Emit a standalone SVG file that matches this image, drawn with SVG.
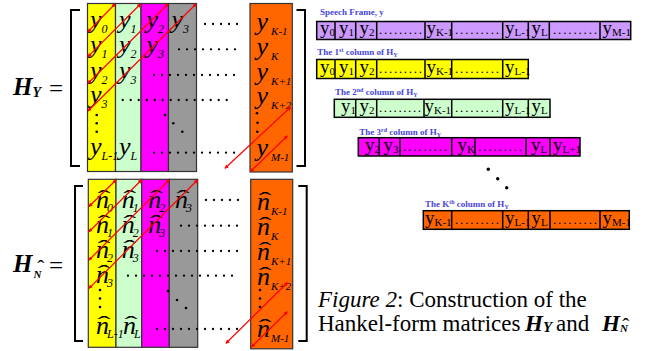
<svg xmlns="http://www.w3.org/2000/svg" width="660" height="351" viewBox="0 0 660 351">
<defs>
<marker id="ah" viewBox="0 0 6 6" refX="5" refY="3" markerWidth="4" markerHeight="4" orient="auto-start-reverse" markerUnits="userSpaceOnUse">
<path d="M0,0 L6,3 L0,6 z" fill="#ff0000"/>
</marker>
<style>
.m{font-family:"Liberation Serif","Times New Roman",serif;font-style:italic;font-size:26px;fill:#000}
.s{font-size:12px}
.so{font-size:11px}
.hat{font-family:"Liberation Serif","Times New Roman",serif;font-size:22px;fill:#000}
.col{stroke:#333;stroke-width:1.2}
.br{fill:none;stroke:#000;stroke-width:2}
.dots{stroke:#000;stroke-width:2.3;stroke-linecap:round;stroke-dasharray:0 8;fill:none}
.dot{fill:#000}
.red{stroke:#ff0000;stroke-width:1.2;fill:none;marker-start:url(#ah);marker-end:url(#ah)}
.cell{stroke:#000;stroke-width:1.5}
.b{font-family:"Liberation Serif","Times New Roman",serif;font-size:19px;fill:#000}
.bs{font-size:11px}
.ld{font-family:"Liberation Serif","Times New Roman",serif;font-size:13px;fill:#000}
.lbl{font-family:"Liberation Serif","Times New Roman",serif;font-weight:bold;font-size:9px;fill:#4646d8}
.sup{font-size:6px}
.eq{font-family:"Liberation Serif","Times New Roman",serif;font-weight:bold;font-style:italic;font-size:25px;fill:#000}
.eqn{font-family:"Liberation Serif","Times New Roman",serif;font-size:25px;fill:#000}
.cap{font-family:"Liberation Serif","Times New Roman",serif;font-size:23px;fill:#000}
</style>
</defs>

<!-- Top matrix H_Y -->
<g id="label-HY">
<text class="eq" x="13" y="95">H<tspan font-size="14" dy="2">Y</tspan></text>
<text class="eqn" x="49" y="97">=</text>
</g>
<g id="matrix-HY">
<rect class="col" x="87.5" y="3.5" width="28" height="168" fill="#ffff00"/>
<rect class="col" x="115.5" y="3.5" width="25.5" height="168" fill="#ccffcc"/>
<rect class="col" x="141" y="3.5" width="27.5" height="168" fill="#ff00ff"/>
<rect class="col" x="168.5" y="3.5" width="28" height="168" fill="#999999"/>
<rect class="col" x="250" y="3.5" width="42.3" height="168.5" fill="#ff6600"/>
<path class="br" d="M80,10 H71 V166 H80"/>
<path class="br" d="M296.5,10 H305 V166 H296.5"/>
<text class="m" x="90" y="28">y<tspan class="s" dy="5">0</tspan></text>
<text class="m" x="119" y="28">y<tspan class="s" dy="5">1</tspan></text>
<text class="m" x="146.5" y="28">y<tspan class="s" dy="5">2</tspan></text>
<text class="m" x="171.5" y="28">y<tspan class="s" dy="5">3</tspan></text>
<text class="m" x="90" y="53">y<tspan class="s" dy="5">1</tspan></text>
<text class="m" x="119" y="53">y<tspan class="s" dy="5">2</tspan></text>
<text class="m" x="146.5" y="53">y<tspan class="s" dy="5">3</tspan></text>
<text class="m" x="90" y="79">y<tspan class="s" dy="5">2</tspan></text>
<text class="m" x="119" y="79">y<tspan class="s" dy="5">3</tspan></text>
<text class="m" x="90" y="103">y<tspan class="s" dy="5">3</tspan></text>
<text class="m" x="90" y="155">y<tspan class="s" dy="5">L-1</tspan></text>
<text class="m" x="119" y="155">y<tspan class="s" dy="5">L</tspan></text>
<text class="m" x="256.5" y="30">y<tspan class="so" dx="3" dy="5">K-1</tspan></text>
<text class="m" x="256.5" y="55">y<tspan class="so" dx="3" dy="5">K</tspan></text>
<text class="m" x="256.5" y="80">y<tspan class="so" dx="3" dy="5">K+1</tspan></text>
<text class="m" x="256.5" y="104">y<tspan class="so" dx="3" dy="5">K+2</tspan></text>
<text class="m" x="256.5" y="156">y<tspan class="so" dx="3" dy="5">M-1</tspan></text>
<line class="dots" x1="205" y1="24" x2="245" y2="24"/>
<line class="dots" x1="179" y1="49.3" x2="243" y2="49.3"/>
<line class="dots" x1="154" y1="75" x2="242" y2="75"/>
<line class="dots" x1="122.7" y1="100" x2="234.7" y2="100"/>
<line class="dots" x1="154" y1="152.7" x2="242" y2="152.7"/>
<circle class="dot" cx="96.7" cy="115" r="1.3"/>
<circle class="dot" cx="96.7" cy="123.3" r="1.3"/>
<circle class="dot" cx="96.7" cy="131.7" r="1.3"/>
<circle class="dot" cx="165" cy="115" r="1.3"/>
<circle class="dot" cx="173.3" cy="123.3" r="1.3"/>
<circle class="dot" cx="182.3" cy="131.7" r="1.3"/>
<circle class="dot" cx="257" cy="113.3" r="1.3"/>
<circle class="dot" cx="257.5" cy="122.7" r="1.3"/>
<circle class="dot" cx="257.3" cy="131.7" r="1.3"/>
</g>

<!-- Bottom matrix H_N -->
<g id="label-HN">
<text class="eq" x="13" y="272">H<tspan font-size="11" dx="1" dy="6">N</tspan></text>
<text class="hat" x="37.3" y="275" font-size="14" textLength="7" lengthAdjust="spacingAndGlyphs">ˆ</text>
<text class="eqn" x="49" y="274">=</text>
</g>
<g id="matrix-HN">
<rect class="col" x="88.3" y="179.3" width="27.7" height="168" fill="#ffff00"/>
<rect class="col" x="116" y="179.3" width="25.7" height="168" fill="#ccffcc"/>
<rect class="col" x="141.7" y="179.3" width="27.6" height="168" fill="#ff00ff"/>
<rect class="col" x="169.3" y="179.3" width="28.4" height="168" fill="#999999"/>
<rect class="col" x="250.7" y="179.3" width="42" height="169.5" fill="#ff6600"/>
<path class="br" d="M83,186 H75 V341 H83"/>
<path class="br" d="M298.3,186 H306.7 V341 H298.3"/>
<g id="n-row1">
<text class="m" x="96" y="208">n<tspan class="s" dx="-2" dy="4">0</tspan></text>
<text class="hat" x="97.5" y="205" textLength="13" lengthAdjust="spacingAndGlyphs">ˆ</text>
<text class="m" x="121.7" y="208">n<tspan class="s" dx="-2" dy="4">1</tspan></text>
<text class="hat" x="123.2" y="205" textLength="13" lengthAdjust="spacingAndGlyphs">ˆ</text>
<text class="m" x="148.3" y="208">n<tspan class="s" dx="-2" dy="4">2</tspan></text>
<text class="hat" x="149.8" y="205" textLength="13" lengthAdjust="spacingAndGlyphs">ˆ</text>
<text class="m" x="175" y="208">n<tspan class="s" dx="-2" dy="4">3</tspan></text>
<text class="hat" x="176.5" y="205" textLength="13" lengthAdjust="spacingAndGlyphs">ˆ</text>
</g>
<g id="n-row2">
<text class="m" x="96" y="233">n<tspan class="s" dx="-2" dy="4">1</tspan></text>
<text class="hat" x="97.5" y="230" textLength="13" lengthAdjust="spacingAndGlyphs">ˆ</text>
<text class="m" x="121.7" y="233">n<tspan class="s" dx="-2" dy="4">2</tspan></text>
<text class="hat" x="123.2" y="230" textLength="13" lengthAdjust="spacingAndGlyphs">ˆ</text>
<text class="m" x="148.3" y="233">n<tspan class="s" dx="-2" dy="4">3</tspan></text>
<text class="hat" x="149.8" y="230" textLength="13" lengthAdjust="spacingAndGlyphs">ˆ</text>
</g>
<g id="n-row3">
<text class="m" x="96" y="258">n<tspan class="s" dx="-2" dy="4">2</tspan></text>
<text class="hat" x="97.5" y="255" textLength="13" lengthAdjust="spacingAndGlyphs">ˆ</text>
<text class="m" x="121.7" y="258">n<tspan class="s" dx="-2" dy="4">3</tspan></text>
<text class="hat" x="123.2" y="255" textLength="13" lengthAdjust="spacingAndGlyphs">ˆ</text>
</g>
<g id="n-row4">
<text class="m" x="96" y="283">n<tspan class="s" dx="-2" dy="4">3</tspan></text>
<text class="hat" x="97.5" y="280" textLength="13" lengthAdjust="spacingAndGlyphs">ˆ</text>
</g>
<g id="n-rowL">
<text class="m" x="96" y="334">n<tspan class="s" dx="-2" dy="4">L-1</tspan></text>
<text class="hat" x="97.5" y="331" textLength="13" lengthAdjust="spacingAndGlyphs">ˆ</text>
<text class="m" x="123" y="334">n<tspan class="s" dx="-2" dy="4">L</tspan></text>
<text class="hat" x="124.5" y="331" textLength="13" lengthAdjust="spacingAndGlyphs">ˆ</text>
</g>
<g id="n-orange">
<text class="m" x="257" y="210">n<tspan class="so" dx="1" dy="5">K-1</tspan></text>
<text class="hat" x="258.5" y="207" textLength="13" lengthAdjust="spacingAndGlyphs">ˆ</text>
<text class="m" x="257" y="235">n<tspan class="so" dx="1" dy="5">K</tspan></text>
<text class="hat" x="258.5" y="232" textLength="13" lengthAdjust="spacingAndGlyphs">ˆ</text>
<text class="m" x="257" y="260">n<tspan class="so" dx="1" dy="5">K+1</tspan></text>
<text class="hat" x="258.5" y="257" textLength="13" lengthAdjust="spacingAndGlyphs">ˆ</text>
<text class="m" x="257" y="285">n<tspan class="so" dx="1" dy="5">K+2</tspan></text>
<text class="hat" x="258.5" y="282" textLength="13" lengthAdjust="spacingAndGlyphs">ˆ</text>
<text class="m" x="257" y="336.5">n<tspan class="so" dx="1" dy="5">M-1</tspan></text>
<text class="hat" x="258.5" y="333.5" textLength="13" lengthAdjust="spacingAndGlyphs">ˆ</text>
</g>
<line class="dots" x1="206" y1="200" x2="246" y2="200"/>
<line class="dots" x1="181" y1="225.7" x2="245" y2="225.7"/>
<line class="dots" x1="157" y1="251" x2="245" y2="251"/>
<line class="dots" x1="128" y1="275.7" x2="240" y2="275.7"/>
<line class="dots" x1="157" y1="329" x2="245" y2="329"/>
<circle class="dot" cx="100" cy="290" r="1.3"/>
<circle class="dot" cx="100" cy="298.5" r="1.3"/>
<circle class="dot" cx="100" cy="307" r="1.3"/>
<circle class="dot" cx="168" cy="291" r="1.3"/>
<circle class="dot" cx="177" cy="300" r="1.3"/>
<circle class="dot" cx="186" cy="308" r="1.3"/>
<circle class="dot" cx="260" cy="290" r="1.3"/>
<circle class="dot" cx="260" cy="298.5" r="1.3"/>
<circle class="dot" cx="260" cy="307" r="1.3"/>
</g>

<!-- Diagonal red arrows -->
<g id="connectors">
<line class="red" x1="88" y1="31.7" x2="115" y2="4"/>
<line class="red" x1="88" y1="56.7" x2="140.5" y2="4"/>
<line class="red" x1="88" y1="83.3" x2="168" y2="4"/>
<line class="red" x1="88" y1="111" x2="196" y2="4"/>
<line class="red" x1="225" y1="168.3" x2="290.5" y2="107.3"/>
<line class="red" x1="250.5" y1="171.5" x2="287.3" y2="136"/>
<line class="red" x1="89" y1="206.5" x2="116" y2="180"/>
<line class="red" x1="89" y1="231.7" x2="141.5" y2="180"/>
<line class="red" x1="89" y1="260" x2="169" y2="180"/>
<line class="red" x1="89" y1="288.3" x2="197.5" y2="180"/>
<line class="red" x1="226" y1="343.3" x2="287.3" y2="282.7"/>
<line class="red" x1="251.7" y1="346.7" x2="287.3" y2="311.7"/>
</g>

<!-- Speech frame -->
<g id="speech-frame">
<text class="lbl" x="320" y="15">Speech Frame, y</text>
<rect class="cell" x="316.7" y="21.5" width="314" height="18" fill="#cc99ff"/>
<path class="cell" d="M335,21.5V39.5M355.7,21.5V39.5M376.7,21.5V39.5M425,21.5V39.5M451.7,21.5V39.5M502.7,21.5V39.5M528.3,21.5V39.5M549.3,21.5V39.5M600,21.5V39.5"/>
<text class="b" x="320" y="34">y<tspan class="bs" dy="2">0</tspan></text>
<text class="b" x="339" y="34">y<tspan class="bs" dy="2">1</tspan></text>
<text class="b" x="359.5" y="34">y<tspan class="bs" dy="2">2</tspan></text>
<text class="ld" x="379" y="34" textLength="43" lengthAdjust="spacing">.........</text>
<text class="b" x="426.5" y="34">y<tspan class="bs" dy="2">K-1</tspan></text>
<text class="ld" x="455" y="34" textLength="44" lengthAdjust="spacing">.........</text>
<text class="b" x="505" y="34">y<tspan class="bs" dy="2">L-1</tspan></text>
<text class="b" x="531.5" y="34">y<tspan class="bs" dy="2">L</tspan></text>
<text class="ld" x="553" y="34" textLength="44" lengthAdjust="spacing">.........</text>
<text class="b" x="602.5" y="34">y<tspan class="bs" dy="2">M-1</tspan></text>
</g>

<g id="column-1">
<text class="lbl" x="317.3" y="55">The 1<tspan class="sup" dy="-3">st</tspan><tspan dy="3"> column of H</tspan><tspan class="sup" dy="2">Y</tspan></text>
<rect class="cell" x="316.7" y="59.5" width="211.6" height="19" fill="#ffff00"/>
<path class="cell" d="M335,59.5V78.5M355.7,59.5V78.5M376.7,59.5V78.5M425,59.5V78.5M451.7,59.5V78.5M502.7,59.5V78.5"/>
<text class="b" x="320" y="73">y<tspan class="bs" dy="2">0</tspan></text>
<text class="b" x="339" y="73">y<tspan class="bs" dy="2">1</tspan></text>
<text class="b" x="359.5" y="73">y<tspan class="bs" dy="2">2</tspan></text>
<text class="ld" x="379" y="73" textLength="43" lengthAdjust="spacing">.........</text>
<text class="b" x="426.5" y="73">y<tspan class="bs" dy="2">K-1</tspan></text>
<text class="ld" x="455" y="73" textLength="44" lengthAdjust="spacing">.........</text>
<text class="b" x="505" y="73">y<tspan class="bs" dy="2">L-1</tspan></text>
</g>

<g id="column-2">
<text class="lbl" x="335" y="95">The 2<tspan class="sup" dy="-3">nd</tspan><tspan dy="3"> column of H</tspan><tspan class="sup" dy="2">Y</tspan></text>
<rect class="cell" x="334.3" y="99.3" width="215.7" height="18" fill="#ccffcc"/>
<path class="cell" d="M355.7,99.3V117.3M376.7,99.3V117.3M424,99.3V117.3M451.7,99.3V117.3M502.7,99.3V117.3M528.3,99.3V117.3"/>
<text class="b" x="341" y="112">y<tspan class="bs" dy="2">1</tspan></text>
<text class="b" x="359.5" y="112">y<tspan class="bs" dy="2">2</tspan></text>
<text class="ld" x="379" y="112" textLength="42" lengthAdjust="spacing">.........</text>
<text class="b" x="424.5" y="112">y<tspan class="bs" dy="2">K-1</tspan></text>
<text class="ld" x="455" y="112" textLength="44" lengthAdjust="spacing">.........</text>
<text class="b" x="505" y="112">y<tspan class="bs" dy="2">L-1</tspan></text>
<text class="b" x="531.5" y="112">y<tspan class="bs" dy="2">L</tspan></text>
</g>

<g id="column-3">
<text class="lbl" x="359.3" y="134.5">The 3<tspan class="sup" dy="-3">rd</tspan><tspan dy="3"> column of H</tspan><tspan class="sup" dy="2">Y</tspan></text>
<rect class="cell" x="358.3" y="137.7" width="221.7" height="18.3" fill="#ff00ff"/>
<path class="cell" d="M379.3,137.7V156M400,137.7V156M451.7,137.7V156M475,137.7V156M526,137.7V156M550,137.7V156"/>
<text class="b" x="365" y="151">y<tspan class="bs" dy="2">2</tspan></text>
<text class="b" x="383.5" y="151">y<tspan class="bs" dy="2">3</tspan></text>
<text class="ld" x="403" y="151" textLength="44" lengthAdjust="spacing">.........</text>
<text class="b" x="457.5" y="151">y<tspan class="bs" dy="2">K</tspan></text>
<text class="ld" x="478" y="151" textLength="44" lengthAdjust="spacing">.........</text>
<text class="b" x="531" y="151">y<tspan class="bs" dy="2">L</tspan></text>
<text class="b" x="553" y="151">y<tspan class="bs" dy="2">L+1</tspan></text>
</g>

<g id="ellipsis">
<circle class="dot" cx="488.3" cy="169.3" r="1.7"/>
<circle class="dot" cx="497.7" cy="178.7" r="1.7"/>
<circle class="dot" cx="506.7" cy="187.7" r="1.7"/>
</g>

<g id="column-K">
<text class="lbl" x="425" y="206.5">The K<tspan class="sup" dy="-3">th</tspan><tspan dy="3"> column of H</tspan><tspan class="sup" dy="2">Y</tspan></text>
<rect class="cell" x="423.3" y="210.7" width="206" height="18.6" fill="#ff6600"/>
<path class="cell" d="M451.7,210.7V229.3M502.7,210.7V229.3M528.3,210.7V229.3M550,210.7V229.3M600,210.7V229.3"/>
<text class="b" x="425" y="224">y<tspan class="bs" dy="2">K-1</tspan></text>
<text class="ld" x="455" y="224" textLength="44" lengthAdjust="spacing">.........</text>
<text class="b" x="505" y="224">y<tspan class="bs" dy="2">L-1</tspan></text>
<text class="b" x="531.5" y="224">y<tspan class="bs" dy="2">L</tspan></text>
<text class="ld" x="553" y="224" textLength="44" lengthAdjust="spacing">.........</text>
<text class="b" x="602.5" y="224">y<tspan class="bs" dy="2">M-1</tspan></text>
</g>

<g id="caption">
<text class="cap" x="318" y="306.5"><tspan font-style="italic">Figure 2</tspan>: Construction of the</text>
<text class="cap" x="318" y="330.5">Hankel-form matrices </text>
<text class="cap" x="525" y="330.5" font-weight="bold" font-style="italic">H<tspan font-size="15" dy="1">Y</tspan></text>
<text class="cap" x="556" y="330.5">and</text>
<text class="cap" x="602" y="330.5" font-weight="bold" font-style="italic">H<tspan font-size="11" dy="1">N</tspan></text>
<text class="hat" x="622.3" y="333" font-size="14" textLength="7" lengthAdjust="spacingAndGlyphs">ˆ</text>
</g>
</svg>
